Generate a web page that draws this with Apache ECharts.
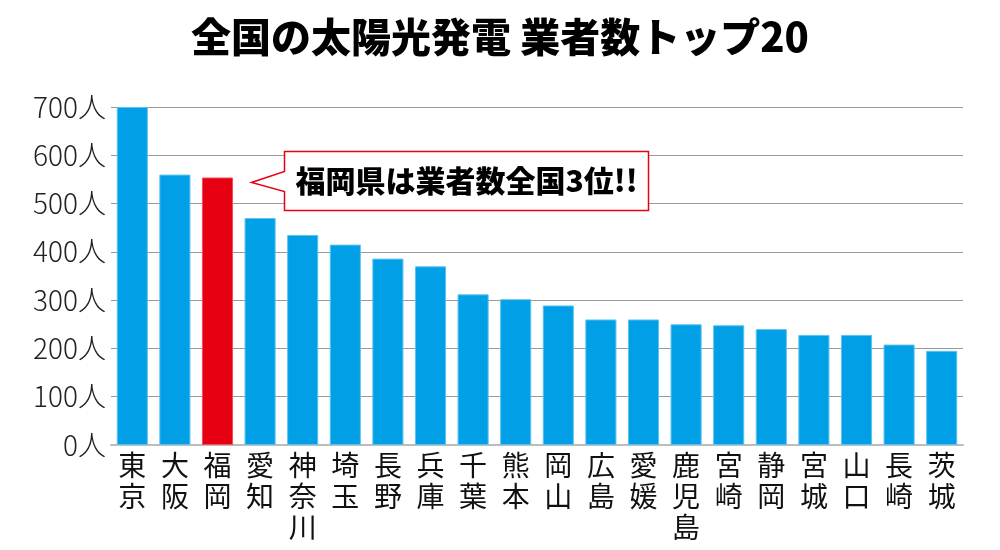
<!DOCTYPE html>
<html lang="ja">
<head>
    <meta charset="UTF-8"/>
    <script src="https://cdn.jsdelivr.net/npm/echarts@6/dist/echarts.min.js"></script>
    <title>全国の太陽光発電 業者数トップ20</title>
    <style>
        html, body { margin: 0; padding: 0; background: #fff; }
        #main { width: 1000px; height: 550px; }
    </style>
</head>
<body>
<div id="main"></div>
<script type="text/javascript">
    // データ
    var prefectures = ['東京', '大阪', '福岡', '愛知', '神奈川', '埼玉', '長野', '兵庫', '千葉', '熊本',
        '岡山', '広島', '愛媛', '鹿児島', '宮崎', '静岡', '宮城', '山口', '長崎', '茨城'];
    var counts = [700, 560, 554, 470, 435, 415, 386, 370, 312, 302,
        289, 260, 260, 250, 248, 240, 228, 228, 208, 195];
    var highlight = '福岡';
    var calloutText = '福岡県は業者数全国3位!!';

    var font = '"Noto Sans CJK JP", "Noto Sans", sans-serif';
    var myChart = echarts.init(document.getElementById('main'));

    var option = {
        animation: false,
        title: {
            text: '全国の太陽光発電 業者数トップ20',
            left: 'center',
            top: 12,
            textStyle: { fontFamily: font, fontWeight: 900, fontSize: 40, color: '#000' }
        },
        grid: { left: 111, right: 37, top: 107, bottom: 105 },
        xAxis: {
            type: 'category',
            data: prefectures,
            axisLine: { lineStyle: { color: '#bdbdbd', width: 2 } },
            axisTick: { show: false },
            axisLabel: {
                interval: 0,
                margin: 5,
                fontFamily: font,
                fontSize: 28,
                lineHeight: 31,
                color: '#111',
                verticalAlign: 'top',
                formatter: function (v) { return v.split('').join('\n'); }
            }
        },
        yAxis: {
            type: 'value',
            min: 0,
            max: 700,
            interval: 100,
            axisLine: { show: false },
            axisTick: { show: false },
            splitLine: { lineStyle: { color: '#9a9a9a', width: 1 } },
            axisLabel: {
                margin: 5,
                fontFamily: font,
                fontSize: 28,
                fontWeight: 300,
                color: '#222',
                formatter: '{value}人'
            }
        },
        series: [{
            type: 'bar',
            barWidth: '73%',
            data: prefectures.map(function (p, i) {
                return {
                    value: counts[i],
                    itemStyle: p === highlight
                        ? { color: '#e60012', borderColor: '#f0505a', borderWidth: 1 }
                        : { color: '#009fe6', borderColor: '#5cc3f0', borderWidth: 1 }
                };
            })
        }]
    };
    myChart.setOption(option);

    // 吹き出し（福岡のバー位置から配置）
    var hi = prefectures.indexOf(highlight);
    var px = myChart.convertToPixel({ xAxisIndex: 0 }, prefectures[hi]);
    var py = myChart.convertToPixel({ yAxisIndex: 0 }, counts[hi]);
    var tipX = px + 34, tipY = py + 5;
    var bx = tipX + 33, by = tipY - 31, bw = 364, bh = 59;
    myChart.setOption({
        graphic: [{
            type: 'polygon',
            shape: {
                points: [
                    [bx, by], [bx + bw, by], [bx + bw, by + bh], [bx, by + bh],
                    [bx, tipY + 9], [tipX, tipY], [bx, tipY - 11]
                ]
            },
            style: { fill: '#fff', stroke: '#e60012', lineWidth: 1.5 }
        }, {
            type: 'text',
            x: bx + bw / 2,
            y: by + bh / 2,
            style: {
                text: calloutText,
                fontFamily: font,
                fontWeight: 900,
                fontSize: 30,
                fill: '#000',
                align: 'center',
                verticalAlign: 'middle'
            }
        }]
    });
</script>
</body>
</html>
